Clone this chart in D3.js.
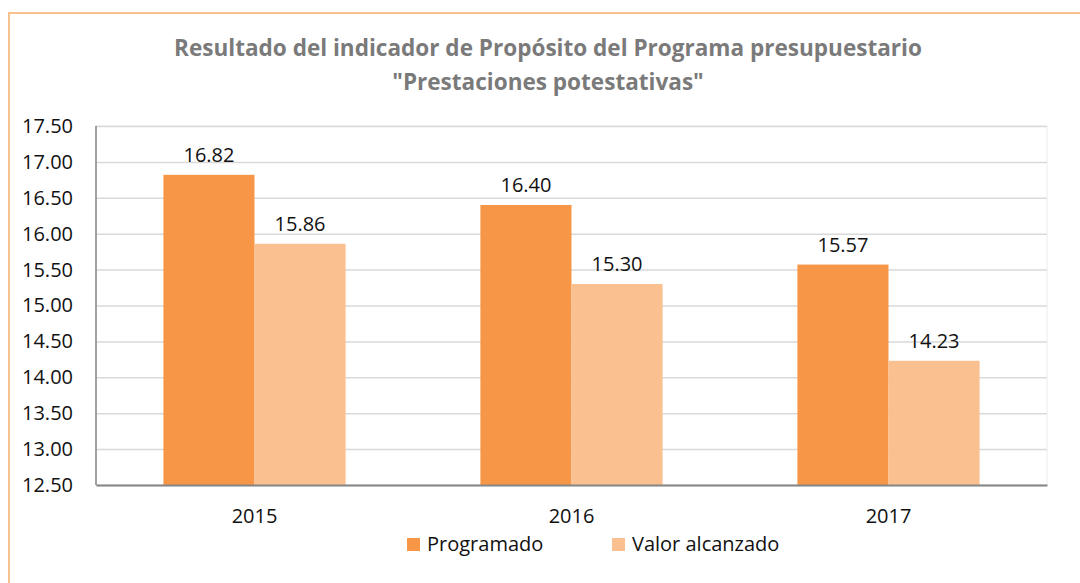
<!DOCTYPE html>
<html>
<head>
<meta charset="utf-8">
<script src="https://cdn.jsdelivr.net/npm/d3@7"></script>
<style>
  html, body { margin: 0; padding: 0; background: #fff; }
  svg { display: block; font-family: "Open Sans", "Noto Sans", sans-serif; }
</style>
</head>
<body>
<svg id="chart" width="1080" height="583"></svg>
<script>
const categories = ["2015", "2016", "2017"];
const programado = [16.82, 16.40, 15.57];
const valorAlcanzado = [15.86, 15.30, 14.23];
const seriesNames = ["Programado", "Valor alcanzado"];
const yTicks = [12.5, 13.0, 13.5, 14.0, 14.5, 15.0, 15.5, 16.0, 16.5, 17.0, 17.5];
const titleLines = ["Resultado del indicador de Propósito del Programa presupuestario", "\"Prestaciones potestativas\""];

const colors = ["#F79646", "#FAC090"];
const FS = 20;
const svg = d3.select("#chart");

// outer frame (only top & left edges visible)
svg.append("path")
  .attr("d", "M9,583 L9,13 L1080,13")
  .attr("fill", "none").attr("stroke", "#F9C08E").attr("stroke-width", 2);

const m = { left: 96, right: 1047, top: 126, bottom: 485 };

const x = d3.scaleBand().domain(categories).range([m.left, m.right]).paddingInner(0).paddingOuter(0);
const xs = d3.scaleBand().domain(seriesNames).range([0, x.bandwidth()]).paddingInner(0).paddingOuter(0.74);
const y = d3.scaleLinear().domain([12.5, 17.5]).range([m.bottom, m.top]);

// plot border (light)
svg.append("rect")
  .attr("x", m.left).attr("y", m.top)
  .attr("width", m.right - m.left).attr("height", m.bottom - m.top)
  .attr("fill", "none").attr("stroke", "#ececec").attr("stroke-width", 1);

// gridlines
svg.append("g")
  .attr("transform", `translate(${m.left},0)`)
  .call(d3.axisLeft(y).tickValues(yTicks).tickSize(-(m.right - m.left)).tickFormat(""))
  .call(g => g.select(".domain").remove())
  .call(g => g.selectAll("line").attr("stroke", "#d9d9d9").attr("stroke-width", 1.5));

// y labels
svg.append("g")
  .attr("transform", `translate(${m.left},0)`)
  .call(d3.axisLeft(y).tickValues(yTicks).tickSize(0).tickPadding(23).tickFormat(d3.format(".2f")))
  .call(g => g.select(".domain").remove())
  .call(g => g.selectAll("text").attr("font-size", FS).attr("fill", "#111")
    .attr("font-family", "'Open Sans', sans-serif"));

// bars
const series = [programado, valorAlcanzado];
const groups = svg.append("g");
series.forEach((vals, si) => {
  groups.selectAll(null).data(categories).enter().append("rect")
    .attr("x", (d) => x(d) + xs(seriesNames[si]))
    .attr("y", (d, i) => y(vals[i]))
    .attr("width", xs.bandwidth())
    .attr("height", (d, i) => y(12.5) - y(vals[i]))
    .attr("fill", colors[si]);
  groups.selectAll(null).data(categories).enter().append("text")
    .attr("x", (d) => x(d) + xs(seriesNames[si]) + xs.bandwidth() / 2)
    .attr("y", (d, i) => y(vals[i]) - 13)
    .attr("text-anchor", "middle")
    .attr("font-size", FS).attr("fill", "#111")
    .text((d, i) => d3.format(".2f")(vals[i]));
});

// axes lines
svg.append("line").attr("x1", m.left).attr("x2", m.left).attr("y1", m.top).attr("y2", m.bottom)
  .attr("stroke", "#868686").attr("stroke-width", 1.5);
svg.append("g")
  .attr("transform", `translate(0,${m.bottom})`)
  .call(d3.axisBottom(x).tickSize(0).tickPadding(24))
  .call(g => g.select(".domain").attr("stroke", "#868686").attr("stroke-width", 2))
  .call(g => g.selectAll("text").attr("font-size", FS).attr("fill", "#111")
    .attr("font-family", "'Open Sans', sans-serif"));

// title
const title = svg.append("g");
titleLines.forEach((t, i) => {
  title.append("text")
    .attr("x", 548).attr("y", 56 + i * 34)
    .attr("text-anchor", "middle")
    .attr("font-size", 20).attr("font-weight", "bold").attr("fill", "#7a7a7a")
    .text(t);
});
const l1 = title.select("text").node();
const w = l1.getComputedTextLength();
title.selectAll("text").attr("font-size", 20 * 748 / w);

// legend
const legendItems = [{ name: seriesNames[0], x: 407 }, { name: seriesNames[1], x: 612 }];
legendItems.forEach((it, i) => {
  svg.append("rect").attr("x", it.x).attr("y", 538).attr("width", 13).attr("height", 13).attr("fill", colors[i]);
  svg.append("text").attr("x", it.x + 20).attr("y", 551)
    .attr("font-size", FS).attr("fill", "#111").text(it.name);
});
</script>
</body>
</html>
